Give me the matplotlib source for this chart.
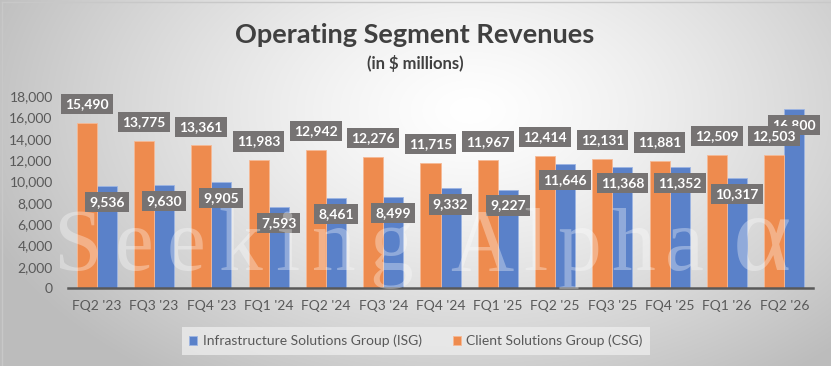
import numpy as np
import matplotlib.pyplot as plt

quarters = ["FQ2 '23", "FQ3 '23", "FQ4 '23", "FQ1 '24", "FQ2 '24", "FQ3 '24", "FQ4 '24",
            "FQ1 '25", "FQ2 '25", "FQ3 '25", "FQ4 '25", "FQ1 '26", "FQ2 '26"]
isg = [9536, 9630, 9905, 7593, 8461, 8499, 9332, 9227, 11646, 11368, 11352, 10317, 16800]
csg = [15490, 13775, 13361, 11983, 12942, 12276, 11715, 11967, 12414, 12131, 11881, 12509, 12503]
yticks = [0, 2000, 4000, 6000, 8000, 10000, 12000, 14000, 16000, 18000]

orange = '#EE8B4E'
blue = '#5A81C9'
boxc = '#767373'
txt = '#595959'

plt.rcParams['font.family'] = ['Lato', 'DejaVu Sans']

W, H = 831, 366
fig = plt.figure(figsize=(W / 100, H / 100), dpi=100)

# radial grey background
bg = fig.add_axes([0, 0, 1, 1], zorder=0)
yy, xx = np.mgrid[0:H, 0:W]
d = np.sqrt(((xx - 470) / 520.0) ** 2 + ((yy - 110) / 330.0) ** 2)
d = np.clip(d, 0, 1)
shade = 1.0 - 0.26 * d ** 1.3
bg.imshow(np.dstack([shade] * 3), extent=[0, W, H, 0], aspect='auto')
bg.plot([2, W], [2, 2], color='#c8c8c8', lw=1)
bg.plot([2, 2], [2, H], color='#c8c8c8', lw=1)
bg.set_xlim(0, W)
bg.set_ylim(H, 0)
bg.axis('off')

ax = fig.add_axes([68 / W, 1 - 288 / H, (813 - 68) / W, (288 - 96) / H], zorder=1)
ax.patch.set_alpha(0)

x = np.arange(len(quarters))
w = 0.35
b1 = ax.bar(x + w / 2, isg, w, color=blue, edgecolor='#9DB5E3', linewidth=0.6,
            label='Infrastructure Solutions Group (ISG)', zorder=2)
b2 = ax.bar(x - w / 2, csg, w, color=orange, edgecolor='#F6B995', linewidth=0.6,
            label='Client Solutions Group (CSG)', zorder=2)

# watermark over the bars, letters spread out
rend = fig.canvas.get_renderer()
for word, x0, gap in [("Seeking", 53, 13), ("Alpha", 450, 10)]:
    cx = x0
    for ch in word:
        t = fig.text(cx / W, 1 - 270 / H, ch, family='Liberation Serif', fontsize=63,
                     color='white', alpha=0.33, ha='left', va='baseline', zorder=3)
        cx += t.get_window_extent(rend).width + gap
fig.text(733 / W, 1 - 270 / H, "α", family='Liberation Serif', fontsize=80,
         color='white', alpha=0.33, ha='left', va='baseline', zorder=3)

bbox = dict(boxstyle='square,pad=0.3', fc=boxc, ec='none')
for xi, v in zip(x, isg):
    ax.annotate(f"{v:,}", (xi + w / 2, v), xytext=(0, -11.5), textcoords='offset points',
                ha='center', va='center', color='white', fontsize=10, fontweight='bold',
                bbox=bbox, zorder=5)
for xi, v in zip(x, csg):
    ax.annotate(f"{v:,}", (xi - w / 2, v), xytext=(0, 13.5), textcoords='offset points',
                ha='center', va='center', color='white', fontsize=10, fontweight='bold',
                bbox=bbox, zorder=6)

ax.set_xlim(-0.5, len(quarters) - 0.5)
ax.set_ylim(0, 18000)
ax.set_yticks(yticks)
ax.set_yticklabels([f"{t:,}" for t in yticks], color=txt, fontsize=10)
ax.set_xticks(x)
ax.set_xticklabels(quarters, color=txt, fontsize=10)
ax.tick_params(axis='y', length=0, pad=11)
ax.tick_params(axis='x', length=0, pad=9)
for s in ['top', 'right', 'left']:
    ax.spines[s].set_visible(False)
ax.spines['bottom'].set_color('#595959')
ax.spines['bottom'].set_linewidth(1.8)

fig.text(415 / W, 1 - 35 / H, "Operating Segment Revenues", ha='center', va='center',
         fontsize=19.5, fontweight='bold', color='#404040')
fig.text(415 / W, 1 - 63 / H, "(in $ millions)", ha='center', va='center',
         fontsize=12, fontweight='bold', color='#404040')

leg = fig.legend(handles=[b1, b2], loc='center', bbox_to_anchor=(416 / W, 1 - 341 / H),
                 ncol=2, frameon=True, fontsize=10, handlelength=0.6, handleheight=0.6,
                 columnspacing=2.2, handletextpad=0.4, fancybox=False, borderpad=0.55)
leg.get_frame().set_facecolor('#ececec')
leg.get_frame().set_edgecolor('none')
leg.get_frame().set_alpha(0.8)
for t in leg.get_texts():
    t.set_color(txt)

fig.savefig('out.png', dpi=100)
